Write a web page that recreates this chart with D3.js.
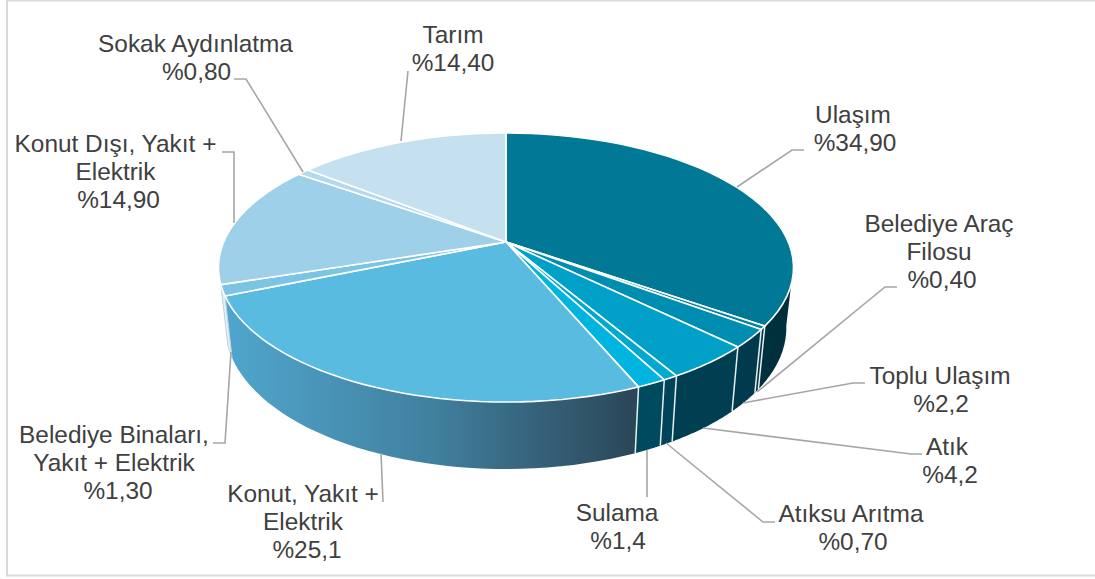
<!DOCTYPE html>
<html><head><meta charset="utf-8">
<script src="https://cdn.jsdelivr.net/npm/d3@7/dist/d3.min.js"></script>
<style>html,body{margin:0;padding:0;background:#fff}svg{display:block}text{font-family:"Liberation Sans",Arial,sans-serif;font-size:24.4px;fill:#404040;text-anchor:middle}</style>
</head><body><svg id="c" width="1095" height="579"></svg>
<script>
// DATA
const categories = ["Ulaşım","Belediye Araç Filosu","Toplu Ulaşım","Atık","Atıksu Arıtma","Sulama","Konut, Yakıt + Elektrik","Belediye Binaları, Yakıt + Elektrik","Konut Dışı, Yakıt + Elektrik","Sokak Aydınlatma","Tarım"];
const values = [34.9,0.4,2.2,4.2,0.7,1.4,25.1,1.3,14.9,0.8,14.4];
const valueLabels = ["%34,90","%0,40","%2,2","%4,2","%0,70","%1,4","%25,1","%1,30","%14,90","%0,80","%14,40"];
const labelLines = [["Ulaşım"],["Belediye Araç","Filosu"],["Toplu Ulaşım"],["Atık"],["Atıksu Arıtma"],["Sulama"],["Konut, Yakıt +","Elektrik"],["Belediye Binaları,","Yakıt + Elektrik"],["Konut Dışı, Yakıt +","Elektrik"],["Sokak Aydınlatma"],["Tarım"]];
const topColors = ["#007896","#0083a6","#008db2","#00a0c8","#00a8d2","#00b4e0","#5abbe0","#7cc4e4","#9ed0e9","#b4d9ec","#c5e0ef"];
const wallColors = ["#00303c","#00374a","#003a4c","#003f52","#004459","#004a5e","url(#konutWall)","#e4f0f6",null,null,null];

// LAYOUT (label centre x, first baseline y; value-line shift; leader polyline)
const labelAnchors = [[853,123],[939,232],[940,384],[947,455],[851,522],[617,521],[303,502],[114,443],[115.5,152],[195.5,52],[453,43]];
const valueShift = [2,3,1,3,2,1,4,4,3,1,0];
const leaders = [
 [[737,187],[792,150],[804,150]],
 [[757,392],[885,287],[897,287]],
 [[743,403],[853,383],[865,383]],
 [[703,428],[911,454],[922,454]],
 [[666,443],[763,522],[775,522]],
 [[647,450],[647,497]],
 [[381,453],[383,502]],
 [[231,352],[225,443],[213,443]],
 [[234,223],[234,152],[222,152]],
 [[303,172],[246,79],[234,79]],
 [[401,141],[408,71]]
];
const apex=[506,242], A=282.3, B=129.7, K=0.1896;
const depthBase=59, depthSlope=1.05, shrink=0.975;

const svg=d3.select("#c");
const defs=svg.append("defs");
const g=defs.append("linearGradient").attr("id","konutWall").attr("gradientUnits","userSpaceOnUse")
  .attr("x1",225).attr("x2",640).attr("y1",0).attr("y2",0);
g.append("stop").attr("offset",0).attr("stop-color","#50a6cd");
g.append("stop").attr("offset",0.5).attr("stop-color","#41809f");
g.append("stop").attr("offset",1).attr("stop-color","#2a4556");

svg.append("rect").attr("x",7).attr("y",0.5).attr("width",1100).attr("height",575).attr("fill","#fff").attr("stroke","#d9d9d9").attr("stroke-width",2);

const arcs=d3.pie().sort(null).startAngle(0).endAngle(2*Math.PI)(values);
function rimTop(t){const X=Math.sin(t),Y=Math.cos(t),w=1+K*Y;return [apex[0]+A*X/w,apex[1]-B*Y/w];}
function rimBot(t){const p=rimTop(t);return [apex[0]+(p[0]-apex[0])*shrink,apex[1]+depthBase+depthSlope*(p[1]-apex[1])];}
const pathLine=d3.line();
function samples(a,b){return d3.range(0,41).map(i=>a+(b-a)*i/40);}

// walls
const wallStart=100*Math.PI/180;
const wallLayer=svg.append("g");
const wallArcs=arcs.map((d,i)=>({d,i})).filter(o=>wallColors[o.i]);
wallLayer.selectAll("path").data(wallArcs).join("path")
 .attr("d",o=>{const a=Math.max(o.d.startAngle,wallStart),b=o.d.endAngle,s=samples(a,b);
   return pathLine(s.map(rimTop).concat(s.slice().reverse().map(rimBot)))+"Z";})
 .attr("fill",o=>wallColors[o.i])
 .attr("stroke",o=>o.i===7?"#b9d3e0":"none").attr("stroke-width",1);
// wall separators
wallLayer.selectAll("line").data(arcs.slice(1,7)).join("line")
 .attr("x1",d=>rimTop(d.startAngle)[0]).attr("y1",d=>rimTop(d.startAngle)[1])
 .attr("x2",d=>rimBot(d.startAngle)[0]).attr("y2",d=>rimBot(d.startAngle)[1])
 .attr("stroke","#e8eef0").attr("stroke-width",1.5);

// top faces
svg.append("g").selectAll("path").data(arcs).join("path")
 .attr("d",d=>pathLine([apex].concat(samples(d.startAngle,d.endAngle).map(rimTop)))+"Z")
 .attr("fill",(d,i)=>topColors[i]).attr("stroke","#fff").attr("stroke-width",1.6).attr("stroke-linejoin","round");

// leaders
svg.append("g").selectAll("path").data(leaders).join("path")
 .attr("d",d=>pathLine(d)).attr("fill","none").attr("stroke","#a6a6a6").attr("stroke-width",1.6);

// labels
const lab=svg.append("g").selectAll("text").data(categories).join("text")
 .attr("x",(d,i)=>labelAnchors[i][0]).attr("y",(d,i)=>labelAnchors[i][1]);
lab.each(function(d,i){
  const t=d3.select(this), n=labelLines[i].length;
  labelLines[i].concat([valueLabels[i]]).forEach((s,j)=>{
    t.append("tspan").attr("x",labelAnchors[i][0]+(j===n?valueShift[i]:0)).attr("dy",j?28:0).text(s);
  });
});
</script></body></html>
